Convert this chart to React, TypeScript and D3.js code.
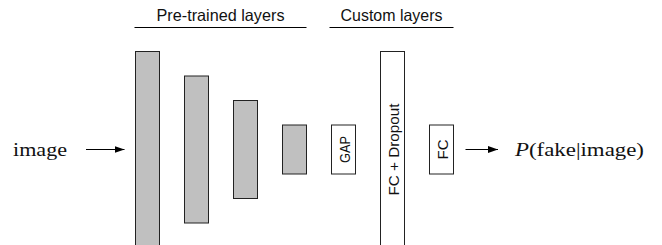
import React, { useEffect, useRef } from "react";
import * as d3 from "d3";

// layers, left to right
const layerLabels = ["", "", "", "", "GAP", "FC + Dropout", "FC"];
const layerSizes = [4, 3, 2, 1, 1, 4, 1];
const layerGroups = ["pre", "pre", "pre", "pre", "custom", "custom", "custom"];
const layerFilled = [true, true, true, true, false, false, false];
// measured label lengths in the figure (px)
const layerLabelLengths = [0, 0, 0, 0, 27, 92, 20];

const groupKeys = ["pre", "custom"];
const groupLabels = ["Pre-trained layers", "Custom layers"];

const inputLabel = "image";
const outputLabel = ["P", "(fake|image)"];

const W = 662;
const H = 245;

export default function App() {
  const svgRef = useRef<SVGSVGElement>(null);

  useEffect(() => {
    const svg = d3.select(svgRef.current);
    svg.selectAll("*").remove();

    const boxW = 24;
    const midY = 149.5;

    // horizontal position of each layer box (left edge)
    const x = d3
      .scaleLinear()
      .domain([0, layerSizes.length - 1])
      .range([135.5, 429.5]);

    // vertical size, units -> pixels
    const y = d3.scaleLinear().domain([0, 1]).range([0, 49]);

    const defs = svg.append("defs");
    defs
      .append("marker")
      .attr("id", "arrow")
      .attr("viewBox", "0 0 10 10")
      .attr("refX", 10)
      .attr("refY", 5)
      .attr("markerWidth", 10)
      .attr("markerHeight", 10)
      .attr("markerUnits", "userSpaceOnUse")
      .attr("orient", "auto")
      .append("path")
      .attr("d", "M0,1.5 L10,5 L0,8.5 Z")
      .attr("fill", "#000");

    // group headers
    groupKeys.forEach((key, gi) => {
      const idx = layerGroups
        .map((g, i) => (g === key ? i : -1))
        .filter((i) => i >= 0);
      const x0 = x(d3.min(idx)!) - 1;
      const x1 = x(d3.max(idx)!) + boxW;
      const left = gi === 0 ? x0 : x0 - 1;
      svg
        .append("line")
        .attr("x1", left)
        .attr("x2", x1)
        .attr("y1", 27.5)
        .attr("y2", 27.5)
        .attr("stroke", "#000")
        .attr("stroke-width", 1.2);
      svg
        .append("text")
        .attr("x", (left + x1) / 2)
        .attr("y", 20.5)
        .attr("text-anchor", "middle")
        .attr("font-family", "Liberation Sans, sans-serif")
        .attr("font-size", 16.5)
        .attr("textLength", gi === 0 ? 128 : 102)
        .attr("lengthAdjust", "spacingAndGlyphs")
        .attr("fill", "#111")
        .text(groupLabels[gi]);
    });

    // layer boxes
    const layers = svg
      .selectAll("g.layer")
      .data(layerSizes.map((s, i) => ({ s, i })))
      .enter()
      .append("g")
      .attr("class", "layer");

    layers
      .append("rect")
      .attr("x", (d) => x(d.i))
      .attr("y", (d) => midY - y(d.s) / 2)
      .attr("width", boxW)
      .attr("height", (d) => y(d.s))
      .attr("fill", (d) => (layerFilled[d.i] ? "#c0c0c0" : "#fff"))
      .attr("stroke", "#222")
      .attr("stroke-width", 1);

    layers
      .filter((d) => layerLabels[d.i] !== "")
      .append("text")
      .attr(
        "transform",
        (d) => `translate(${x(d.i) + boxW / 2 + 0.5},${midY}) rotate(-90)`
      )
      .attr("text-anchor", "middle")
      .attr("dominant-baseline", "central")
      .attr("font-family", "Liberation Sans, sans-serif")
      .attr("font-size", 15.5)
      .attr("textLength", (d) => layerLabelLengths[d.i])
      .attr("lengthAdjust", "spacingAndGlyphs")
      .attr("fill", "#111")
      .text((d) => layerLabels[d.i]);

    // input arrow + label
    svg
      .append("line")
      .attr("x1", 86)
      .attr("x2", x(0) - 11)
      .attr("y1", midY)
      .attr("y2", midY)
      .attr("stroke", "#000")
      .attr("stroke-width", 1)
      .attr("marker-end", "url(#arrow)");
    svg
      .append("text")
      .attr("x", 13)
      .attr("y", 156)
      .attr("font-family", "Liberation Serif, serif")
      .attr("font-size", 18.5)
      .attr("textLength", 54)
      .attr("lengthAdjust", "spacingAndGlyphs")
      .attr("fill", "#111")
      .text(inputLabel);

    // output arrow + label
    const last = layerSizes.length - 1;
    svg
      .append("line")
      .attr("x1", x(last) + boxW + 12)
      .attr("x2", 498)
      .attr("y1", midY)
      .attr("y2", midY)
      .attr("stroke", "#000")
      .attr("stroke-width", 1)
      .attr("marker-end", "url(#arrow)");
    const out = svg
      .append("text")
      .attr("x", 515)
      .attr("y", 156)
      .attr("font-family", "Liberation Serif, serif")
      .attr("font-size", 18.5)
      .attr("textLength", 129)
      .attr("lengthAdjust", "spacingAndGlyphs")
      .attr("fill", "#111");
    out.append("tspan").attr("font-style", "italic").text(outputLabel[0]);
    out.append("tspan").text(outputLabel[1]);
  }, []);

  return (
    <svg
      ref={svgRef}
      width={W}
      height={H}
      style={{ position: "absolute", left: 0, top: 0, background: "#fff" }}
    />
  );
}
